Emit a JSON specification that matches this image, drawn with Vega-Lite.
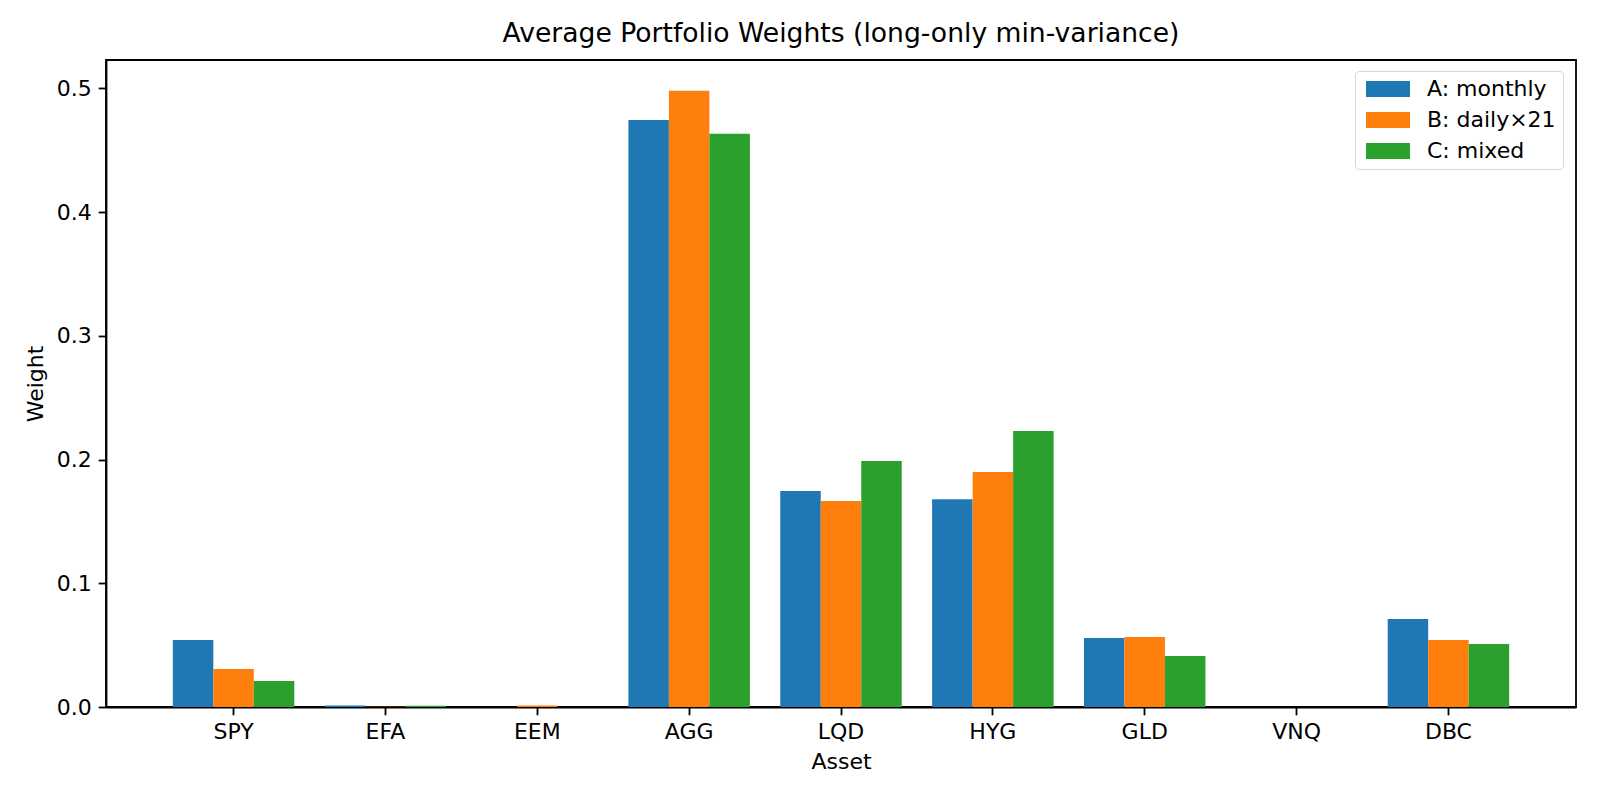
{
  "$schema": "https://vega.github.io/schema/vega-lite/v6.json",
  "autosize": {"type": "none"},
  "padding": {"left": 106, "top": 60, "right": 24, "bottom": 93},
  "width": 1470,
  "height": 647,
  "background": "white",
  "title": {
    "text": "Average Portfolio Weights (long-only min-variance)",
    "font": "DejaVu Sans",
    "fontSize": 26.6,
    "fontWeight": "normal",
    "color": "black",
    "anchor": "middle",
    "offset": 12
  },
  "config": {
    "font": "DejaVu Sans",
    "view": {"stroke": "black", "strokeWidth": 1.8},
    "axis": {
      "grid": false,
      "domainColor": "black",
      "domainWidth": 1.8,
      "tickColor": "black",
      "tickWidth": 1.8,
      "tickSize": 7.8,
      "labelColor": "black",
      "labelFont": "DejaVu Sans",
      "labelFontSize": 22,
      "labelPadding": 7,
      "titleColor": "black",
      "titleFont": "DejaVu Sans",
      "titleFontSize": 22,
      "titleFontWeight": "normal",
      "titlePadding": 9
    }
  },
  "data": {
    "values": [
      {"asset": "SPY", "series": "A: monthly", "weight": 0.0542},
      {"asset": "SPY", "series": "B: daily×21", "weight": 0.0307},
      {"asset": "SPY", "series": "C: mixed", "weight": 0.0210},
      {"asset": "EFA", "series": "A: monthly", "weight": 0.0012},
      {"asset": "EFA", "series": "B: daily×21", "weight": 0.0003},
      {"asset": "EFA", "series": "C: mixed", "weight": 0.0011},
      {"asset": "EEM", "series": "A: monthly", "weight": 0.0},
      {"asset": "EEM", "series": "B: daily×21", "weight": 0.0012},
      {"asset": "EEM", "series": "C: mixed", "weight": 0.0},
      {"asset": "AGG", "series": "A: monthly", "weight": 0.4745},
      {"asset": "AGG", "series": "B: daily×21", "weight": 0.4982},
      {"asset": "AGG", "series": "C: mixed", "weight": 0.4634},
      {"asset": "LQD", "series": "A: monthly", "weight": 0.1746},
      {"asset": "LQD", "series": "B: daily×21", "weight": 0.1665},
      {"asset": "LQD", "series": "C: mixed", "weight": 0.1989},
      {"asset": "HYG", "series": "A: monthly", "weight": 0.1680},
      {"asset": "HYG", "series": "B: daily×21", "weight": 0.1900},
      {"asset": "HYG", "series": "C: mixed", "weight": 0.2231},
      {"asset": "GLD", "series": "A: monthly", "weight": 0.0558},
      {"asset": "GLD", "series": "B: daily×21", "weight": 0.0566},
      {"asset": "GLD", "series": "C: mixed", "weight": 0.0412},
      {"asset": "VNQ", "series": "A: monthly", "weight": 0.0},
      {"asset": "VNQ", "series": "B: daily×21", "weight": 0.0},
      {"asset": "VNQ", "series": "C: mixed", "weight": 0.0},
      {"asset": "DBC", "series": "A: monthly", "weight": 0.0711},
      {"asset": "DBC", "series": "B: daily×21", "weight": 0.0542},
      {"asset": "DBC", "series": "C: mixed", "weight": 0.0509}
    ]
  },
  "mark": {"type": "bar"},
  "encoding": {
    "x": {
      "field": "asset",
      "type": "nominal",
      "sort": ["SPY", "EFA", "EEM", "AGG", "LQD", "HYG", "GLD", "VNQ", "DBC"],
      "scale": {"paddingInner": 0.2, "paddingOuter": 0.44},
      "axis": {"title": "Asset", "labelAngle": 0}
    },
    "xOffset": {
      "field": "series",
      "type": "nominal",
      "scale": {"paddingInner": 0, "paddingOuter": 0}
    },
    "y": {
      "field": "weight",
      "type": "quantitative",
      "scale": {"domain": [0, 0.523], "nice": false, "zero": true},
      "axis": {"title": "Weight", "values": [0, 0.1, 0.2, 0.3, 0.4, 0.5], "format": ".1f"}
    },
    "color": {
      "field": "series",
      "type": "nominal",
      "scale": {
        "domain": ["A: monthly", "B: daily×21", "C: mixed"],
        "range": ["#1f77b4", "#ff7f0e", "#2ca02c"]
      },
      "legend": {
        "title": null,
        "orient": "none",
        "legendX": 1249,
        "legendY": 11,
        "symbolType": "M-5.5,-2H5.5V2H-5.5Z",
        "symbolSize": 64,
        "symbolOffset": 15,
        "symbolStrokeWidth": 0,
        "symbolOpacity": 1,
        "labelFont": "DejaVu Sans",
        "labelFontSize": 22,
        "labelColor": "black",
        "labelOffset": 28,
        "rowPadding": 9,
        "padding": 7,
        "strokeColor": "#d6d6d6",
        "cornerRadius": 4,
        "fillColor": "white"
      }
    }
  }
}
